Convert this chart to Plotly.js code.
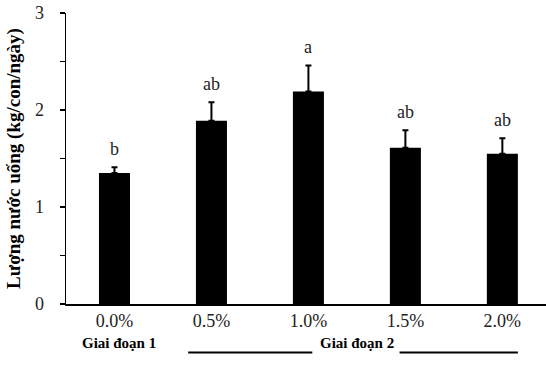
<!DOCTYPE html>
<html>
<head>
<meta charset="utf-8">
<script src="https://cdn.plot.ly/plotly-3.0.1.min.js"></script>
<style>html,body{margin:0;padding:0;background:#fff;}#chart{width:546px;height:365px;}</style>
</head>
<body>
<div id="chart"></div>
<script>
const categories = ["0.0%", "0.5%", "1.0%", "1.5%", "2.0%"];
const values = [1.35, 1.89, 2.19, 1.61, 1.55];
const errors = [0.06, 0.19, 0.27, 0.18, 0.16];
const letters = ["b", "ab", "a", "ab", "ab"];
const stageLabels = ["Giai đoạn 1", "Giai đoạn 2"];
const yTitle = "Lượng nước uống (kg/con/ngày)";

const serif = "'Times New Roman', 'Liberation Serif', 'DejaVu Serif', serif";

const trace = {
  type: "bar",
  x: categories,
  y: values,
  marker: {color: "#000"},
  error_y: {type: "data", array: errors, symmetric: false, arrayminus: errors.map(() => 0), color: "#000", thickness: 2, width: 3},
  hoverinfo: "none"
};

const annotations = letters.map((t, i) => ({
  x: categories[i], y: values[i] + errors[i], xref: "x", yref: "y",
  text: t, showarrow: false, yanchor: "bottom", yshift: 6,
  font: {family: serif, size: 18, color: "#222"}
}));
annotations.push({
  x: 0, y: -0.167, xref: "x", yref: "paper", xshift: 5,
  text: "<b>" + stageLabels[0] + "</b>", showarrow: false,
  font: {family: serif, size: 15, color: "#000"}
});
annotations.push({
  x: 2.5, y: -0.167, xref: "x", yref: "paper", xshift: 0,
  text: "<b>" + stageLabels[1] + "</b>", showarrow: false,
  font: {family: serif, size: 15, color: "#000"}
});

const shapes = [
  {type: "line", xref: "x", yref: "paper", x0: 0.76, x1: 2.04, y0: -0.167, y1: -0.167, line: {color: "#000", width: 2}},
  {type: "line", xref: "x", yref: "paper", x0: 2.94, x1: 4.16, y0: -0.167, y1: -0.167, line: {color: "#000", width: 2}}
];

const layout = {
  width: 546, height: 365,
  margin: {l: 66, r: 0, t: 13, b: 61, pad: 0},
  paper_bgcolor: "#fff", plot_bgcolor: "#fff",
  showlegend: false,
  bargap: 0.68,
  font: {family: serif, color: "#222"},
  xaxis: {
    type: "category", range: [-0.5, 4.45],
    showline: true, linecolor: "#000", linewidth: 1.5,
    ticks: "", showgrid: false, zeroline: false,
    tickfont: {family: serif, size: 18, color: "#222"}
  },
  yaxis: {
    range: [0, 3], dtick: 1, tick0: 0,
    showline: true, linecolor: "#000", linewidth: 1.5,
    ticks: "outside", ticklen: 5, tickwidth: 1.5, tickcolor: "#000",
    minor: {dtick: 0.5, ticks: "outside", ticklen: 5, tickwidth: 1.5, tickcolor: "#000", showgrid: false},
    showgrid: false, zeroline: false,
    ticklabelstandoff: 12,
    tickfont: {family: serif, size: 18, color: "#222"},
    title: {text: "<b>" + yTitle + "</b>", font: {family: serif, size: 19, color: "#000"}, standoff: 9}
  },
  annotations: annotations,
  shapes: shapes
};

Plotly.newPlot("chart", [trace], layout, {displayModeBar: false, staticPlot: true});
</script>
</body>
</html>
